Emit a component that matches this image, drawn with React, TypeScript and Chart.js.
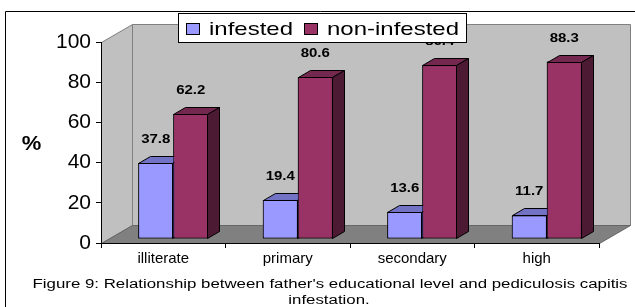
import React, { useEffect, useRef } from "react";
import { Chart, registerables } from "chart.js";

Chart.register(...registerables);

// ---- data ----
const categories = ["illiterate", "primary", "secondary", "high"];
const seriesNames = ["infested", "non-infested"];
const infested = [37.8, 19.4, 13.6, 11.7];
const nonInfested = [62.2, 80.6, 86.4, 88.3];
const yMin = 0;
const yMax = 100;
const yStep = 20;
const yTitle = "%";
const captionLines = [
  "Figure 9: Relationship between father's educational level and pediculosis capitis",
  "infestation.",
];

// ---- styles ----
const FONT = "Arial, 'Liberation Sans', sans-serif";
const WALL_DEPTH = { x: 31, y: -18 };
const BAR_SHIFT = { x: 10, y: -4 };
const BAR_DEPTH = { x: 12, y: -7 };
const SERIES_STYLE = [
  { front: "#9999FF", top: "#7373C6", side: "#4D4D99" },
  { front: "#993366", top: "#75284F", side: "#4D1A33" },
];

function drawStretched(
  ctx: CanvasRenderingContext2D,
  text: string,
  x: number,
  y: number,
  font: string,
  align: "left" | "center" | "right",
  sx: number
) {
  ctx.save();
  ctx.font = font;
  ctx.textAlign = "left";
  ctx.textBaseline = "alphabetic";
  ctx.fillStyle = "#000";
  const w = ctx.measureText(text).width * sx;
  const left = align === "center" ? x - w / 2 : align === "right" ? x - w : x;
  ctx.translate(left, y);
  ctx.scale(sx, 1);
  ctx.fillText(text, 0, 0);
  ctx.restore();
}

function poly(ctx: CanvasRenderingContext2D, pts: number[][], fill: string, stroke: string) {
  ctx.beginPath();
  ctx.moveTo(pts[0][0], pts[0][1]);
  for (let i = 1; i < pts.length; i++) ctx.lineTo(pts[i][0], pts[i][1]);
  ctx.closePath();
  ctx.fillStyle = fill;
  ctx.fill();
  ctx.strokeStyle = stroke;
  ctx.lineWidth = 1;
  ctx.stroke();
}

const threeDPlugin = {
  id: "threeD",
  beforeDraw(chart: any) {
    const ctx: CanvasRenderingContext2D = chart.ctx;
    ctx.save();
    ctx.fillStyle = "#fff";
    ctx.fillRect(0, 0, chart.width, chart.height);
    const { left: L, right: R, top: T, bottom: B } = chart.chartArea;
    const dx = WALL_DEPTH.x;
    const dy = WALL_DEPTH.y;
    const l = Math.round(L) + 0.5;
    const r = Math.round(R) + 0.5;
    const t = Math.round(T) + 0.5;
    const b = Math.round(B) + 0.5;
    // back wall
    poly(ctx, [[l + dx, t + dy], [r + dx, t + dy], [r + dx, b + dy], [l + dx, b + dy]], "#C0C0C0", "#808080");
    // left wall
    poly(ctx, [[l, t], [l + dx, t + dy], [l + dx, b + dy], [l, b]], "#C0C0C0", "#808080");
    // floor
    poly(ctx, [[l, b], [l + dx, b + dy], [r + dx, b + dy], [r, b]], "#808080", "#666666");
    ctx.restore();
  },
  beforeDatasetDraw(chart: any) {
    chart.ctx.save();
    chart.ctx.translate(BAR_SHIFT.x, BAR_SHIFT.y);
  },
  afterDatasetDraw(chart: any) {
    chart.ctx.restore();
  },
  afterDatasetsDraw(chart: any) {
    const ctx: CanvasRenderingContext2D = chart.ctx;
    ctx.save();
    ctx.translate(BAR_SHIFT.x, BAR_SHIFT.y);
    const n = chart.data.labels.length;
    for (let i = 0; i < n; i++) {
      chart.data.datasets.forEach((ds: any, di: number) => {
        const meta = chart.getDatasetMeta(di);
        const el = meta.data[i];
        if (!el) return;
        el.draw(ctx);
        const st = SERIES_STYLE[di];
        const Lx = Math.round(el.x - el.width / 2) + 0.5;
        const Rx = Math.round(el.x + el.width / 2) - 0.5;
        const Ty = Math.round(Math.min(el.y, el.base)) + 0.5;
        const By = Math.round(el.base) - 0.5;
        const dx = BAR_DEPTH.x;
        const dy = BAR_DEPTH.y;
        poly(ctx, [[Lx, Ty], [Rx, Ty], [Rx + dx, Ty + dy], [Lx + dx, Ty + dy]], st.top, "#000");
        poly(ctx, [[Rx, Ty], [Rx + dx, Ty + dy], [Rx + dx, By + dy], [Rx, By]], st.side, "#000");
      });
    }
    ctx.restore();
    // value labels
    chart.data.datasets.forEach((ds: any, di: number) => {
      const meta = chart.getDatasetMeta(di);
      meta.data.forEach((el: any, i: number) => {
        const v = ds.data[i];
        drawStretched(
          ctx,
          v.toFixed(1),
          el.x + BAR_SHIFT.x,
          el.y + BAR_SHIFT.y - 20,
          "bold 12px " + FONT,
          "center",
          1.25
        );
      });
    });
  },
  afterDraw(chart: any) {
    const ctx: CanvasRenderingContext2D = chart.ctx;
    ctx.save();
    // y title
    drawStretched(ctx, yTitle, 31.5, 150, "bold 20px " + FONT, "center", 1.1);

    // legend
    ctx.fillStyle = "#fff";
    ctx.fillRect(178.5, 13.5, 288, 29);
    ctx.strokeStyle = "#000";
    ctx.lineWidth = 1;
    ctx.strokeRect(178.5, 13.5, 288, 29);
    const legendFont = "19px " + FONT;
    ctx.font = legendFont;
    const lsx = 84 / ctx.measureText(seriesNames[0]).width;
    const swX = [186.5, 304.5];
    const txX = [209, 327];
    seriesNames.forEach((name, i) => {
      ctx.fillStyle = SERIES_STYLE[i].front;
      ctx.fillRect(swX[i], 23.5, 13, 11);
      ctx.strokeStyle = "#000";
      ctx.strokeRect(swX[i], 23.5, 13, 11);
      drawStretched(ctx, name, txX[i], 35, legendFont, "left", lsx);
    });

    // caption
    const capFont = "12px " + FONT;
    ctx.font = capFont;
    const csx = 595 / ctx.measureText(captionLines[0]).width;
    drawStretched(ctx, captionLines[0], 330, 287.5, capFont, "center", csx);
    drawStretched(ctx, captionLines[1], 329, 303.5, capFont, "center", csx);

    // outer border
    ctx.strokeStyle = "#000";
    ctx.lineWidth = 1;
    ctx.beginPath();
    ctx.moveTo(5.5, chart.height);
    ctx.lineTo(5.5, 11.5);
    ctx.lineTo(chart.width, 11.5);
    ctx.stroke();
    ctx.restore();
  },
};

export default function App() {
  const ref = useRef<HTMLCanvasElement | null>(null);
  useEffect(() => {
    if (!ref.current) return;
    const chart = new Chart(ref.current, {
      type: "bar",
      data: {
        labels: categories,
        datasets: [
          {
            label: seriesNames[0],
            data: infested,
            backgroundColor: SERIES_STYLE[0].front,
            borderColor: "#000",
            borderWidth: 1,
            borderSkipped: false,
            barPercentage: 1,
            categoryPercentage: 0.562,
            clip: false,
          } as any,
          {
            label: seriesNames[1],
            data: nonInfested,
            backgroundColor: SERIES_STYLE[1].front,
            borderColor: "#000",
            borderWidth: 1,
            borderSkipped: false,
            barPercentage: 1,
            categoryPercentage: 0.562,
            clip: false,
          } as any,
        ],
      },
      options: {
        responsive: false,
        animation: false,
        devicePixelRatio: 1,
        layout: { padding: { top: 42, right: 36, left: 0, bottom: 0 } },
        plugins: {
          legend: { display: false },
          title: { display: false },
          tooltip: { enabled: false },
        },
        events: [],
        scales: {
          x: {
            ticks: { color: "#000", font: { family: FONT, size: 15 }, padding: 2 },
            grid: { offset: true, drawOnChartArea: false, tickLength: 5, color: "#000" },
            border: { display: true, color: "#000", width: 1 },
            afterFit: (s: any) => {
              s.height = 64;
            },
          },
          y: {
            min: yMin,
            max: yMax,
            ticks: { stepSize: yStep, color: "#000", font: { family: FONT, size: 21 }, padding: 5 },
            grid: { drawOnChartArea: false, tickLength: 5, color: "#000" },
            border: { display: true, color: "#000", width: 1 },
            afterFit: (s: any) => {
              s.width = 101;
            },
          },
        },
      } as any,
      plugins: [threeDPlugin],
    });
    return () => chart.destroy();
  }, []);
  return (
    <div style={{ position: "fixed", left: 0, top: 0, width: 635, height: 307, background: "#fff" }}>
      <canvas ref={ref} width={635} height={307} style={{ display: "block" }} />
    </div>
  );
}
